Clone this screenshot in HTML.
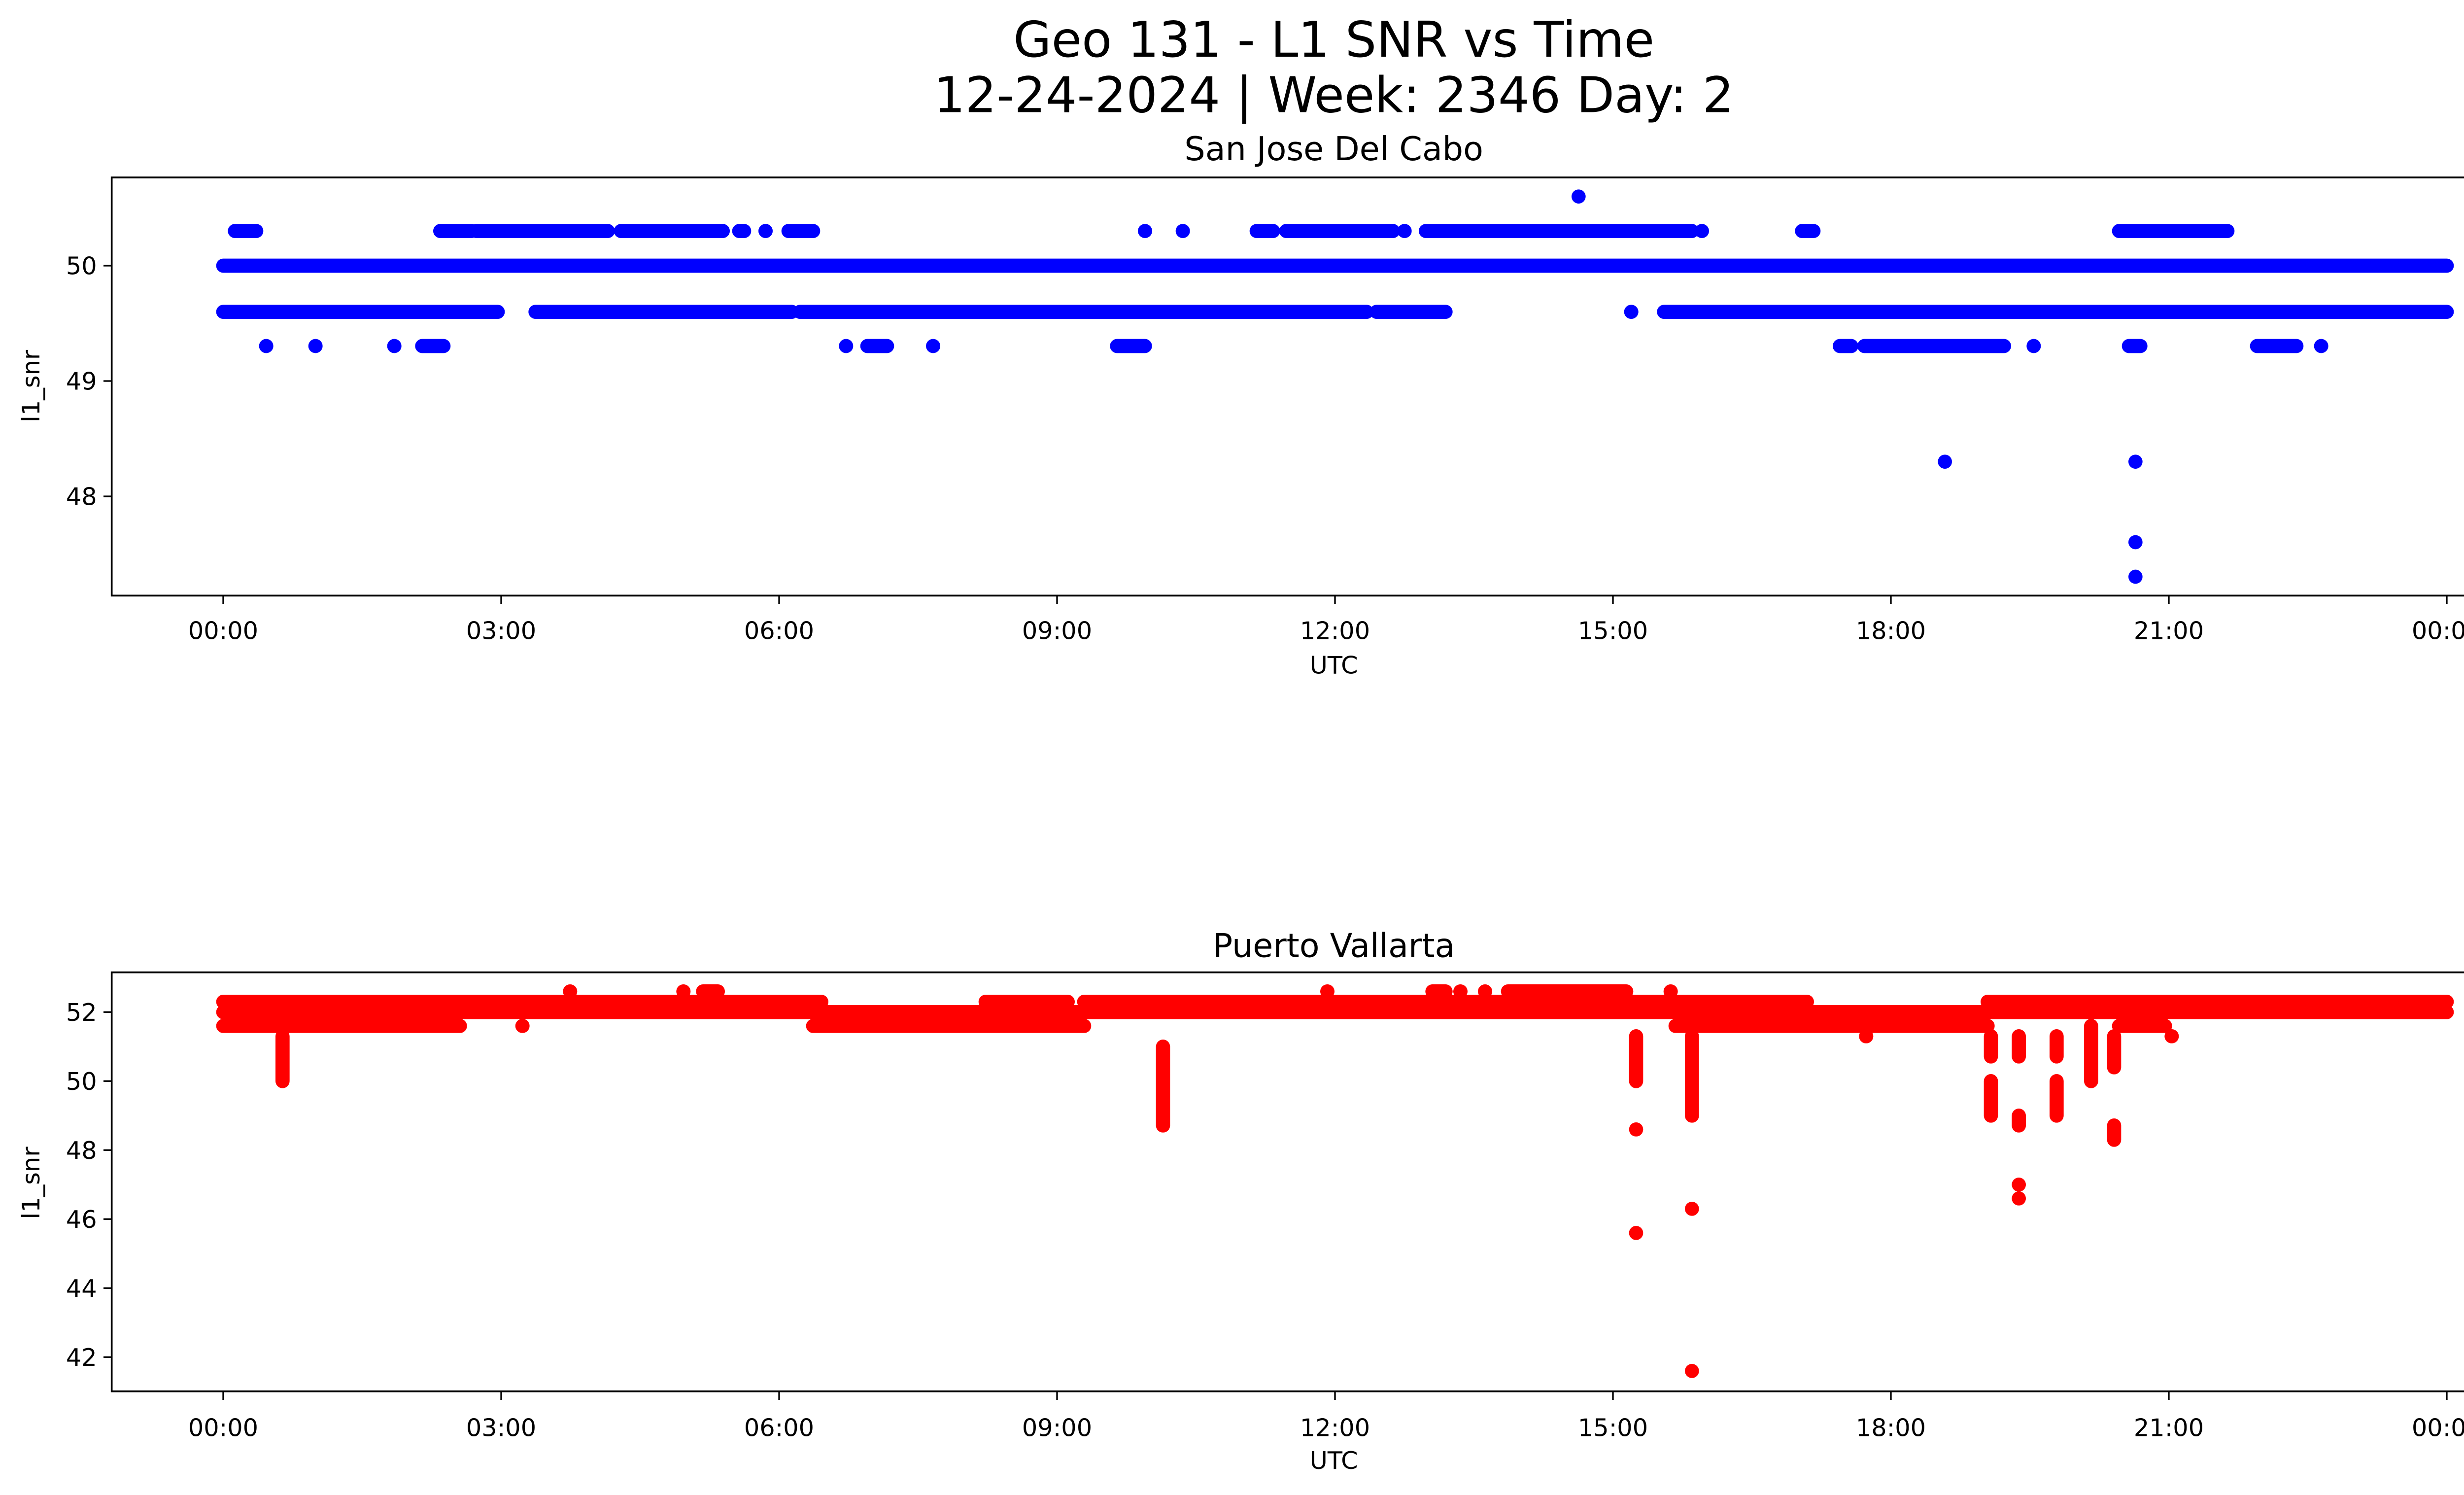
<!DOCTYPE html>
<html><head><meta charset="utf-8"><style>html,body{margin:0;padding:0;background:#fff}svg{display:block}</style></head>
<body>
<svg width="5226" height="3033" viewBox="0 0 1567.8 909.9" xmlns="http://www.w3.org/2000/svg" font-family="'DejaVu Sans','Liberation Sans',sans-serif">
<rect width="1567.8" height="909.9" fill="#fff"/>
<text x="812" y="34.5" font-size="30" text-anchor="middle">Geo 131 - L1 SNR vs Time</text>
<text x="812" y="68.3" font-size="30" text-anchor="middle">12-24-2024 | Week: 2346 Day: 2</text>
<text x="812" y="97.5" font-size="20" text-anchor="middle">San Jose Del Cabo</text>
<text x="812" y="582.5" font-size="20" text-anchor="middle">Puerto Vallarta</text>

<!-- TOP PLOT -->
<g stroke="#00f" stroke-width="8.6" stroke-linecap="round" fill="none">
<path d="M135.9 161.7H1489.5"/>
<path d="M135.9 189.8H303M326 189.8H482M487 189.8H832M838 189.8H880M993 189.8H993.1M1013 189.8H1489.5"/>
<path d="M143 140.6H156M268 140.6H287M290 140.6H370M378 140.6H440M450 140.6H453M466 140.6H466.1M480 140.6H495M697 140.6H697.1M720 140.6H720.1M765 140.6H775M783 140.6H848M855 140.6H855.1M868 140.6H1030M1036 140.6H1036.1M1097 140.6H1104M1290 140.6H1356"/>
<path d="M162 210.6H162.1M192 210.6H192.1M240 210.6H240.1M257 210.6H270M515 210.6H515.1M528 210.6H540M568 210.6H568.1M680 210.6H697M1120 210.6H1127M1135 210.6H1220M1238 210.6H1238.1M1296 210.6H1303M1374 210.6H1398M1413 210.6H1413.1"/>
</g>
<g fill="#00f">
<circle cx="961" cy="119.6" r="4.3"/><circle cx="1184" cy="281" r="4.3"/><circle cx="1300" cy="281" r="4.3"/><circle cx="1300" cy="330" r="4.3"/><circle cx="1300" cy="351" r="4.3"/>
</g>
<rect x="68" y="108" width="1488" height="254.5" fill="none" stroke="#000" stroke-width="1.1"/>
<g stroke="#000" stroke-width="1">
<path d="M68 161.7h-5M68 231.9h-5M68 302.1h-5"/>
<path d="M135.9 362.5v5M305.1 362.5v5M474.3 362.5v5M643.5 362.5v5M812.7 362.5v5M981.9 362.5v5M1151.1 362.5v5M1320.3 362.5v5M1489.5 362.5v5"/>
</g>
<g font-size="14.8" text-anchor="end"><text x="59" y="167">50</text><text x="59" y="237.2">49</text><text x="59" y="307.4">48</text></g>
<g font-size="14.8" text-anchor="middle">
<text x="135.9" y="389">00:00</text><text x="305.1" y="389">03:00</text><text x="474.3" y="389">06:00</text><text x="643.5" y="389">09:00</text><text x="812.7" y="389">12:00</text><text x="981.9" y="389">15:00</text><text x="1151.1" y="389">18:00</text><text x="1320.3" y="389">21:00</text><text x="1489.5" y="389">00:00</text>
<text x="812" y="410">UTC</text></g>
<text transform="translate(24 235) rotate(-90)" font-size="14.8" text-anchor="middle">l1_snr</text>

<!-- BOTTOM PLOT -->
<g stroke="#f00" stroke-width="8.6" stroke-linecap="round" fill="none">
<path d="M135.9 616H1489.5"/>
<path d="M135.9 609.7H500M600 609.7H650M660 609.7H1100M1210 609.7H1489.5"/>
<path d="M135.9 624.4H280M495 624.4H660M1020 624.4H1210M1290 624.4H1318"/>
<path d="M347 603.4h.1M416 603.4h.1M428 603.4H437M808 603.4h.1M872 603.4H880M889 603.4h.1M904 603.4h.1M918 603.4H990M1017 603.4h.1"/>
<path d="M172 630.7V658M318 624.4h.1M708 637V685M996 630.7V658M1030 630.7V679M1136 630.7h.1M1212 630.7V643M1212 658V679M1229 630.7V643M1229 679V685M1252 630.7V643M1252 658V679M1273 624.4V658M1287 630.7V649.6M1287 685V693.7M1322 630.7h.1"/>
</g>
<g fill="#f00">
<circle cx="996" cy="687.4" r="4.3"/><circle cx="996" cy="750.4" r="4.3"/><circle cx="1030" cy="735.7" r="4.3"/><circle cx="1030" cy="834.4" r="4.3"/><circle cx="1229" cy="721" r="4.3"/><circle cx="1229" cy="729.4" r="4.3"/>
</g>
<rect x="68" y="591.8" width="1488" height="255" fill="none" stroke="#000" stroke-width="1.1"/>
<g stroke="#000" stroke-width="1">
<path d="M68 616h-5M68 658h-5M68 700h-5M68 742h-5M68 784h-5M68 826h-5"/>
<path d="M135.9 847v5M305.1 847v5M474.3 847v5M643.5 847v5M812.7 847v5M981.9 847v5M1151.1 847v5M1320.3 847v5M1489.5 847v5"/>
</g>
<g font-size="14.8" text-anchor="end"><text x="59" y="621.3">52</text><text x="59" y="663.3">50</text><text x="59" y="705.3">48</text><text x="59" y="747.3">46</text><text x="59" y="789.3">44</text><text x="59" y="831.3">42</text></g>
<g font-size="14.8" text-anchor="middle">
<text x="135.9" y="874">00:00</text><text x="305.1" y="874">03:00</text><text x="474.3" y="874">06:00</text><text x="643.5" y="874">09:00</text><text x="812.7" y="874">12:00</text><text x="981.9" y="874">15:00</text><text x="1151.1" y="874">18:00</text><text x="1320.3" y="874">21:00</text><text x="1489.5" y="874">00:00</text>
<text x="812" y="894">UTC</text></g>
<text transform="translate(24 720) rotate(-90)" font-size="14.8" text-anchor="middle">l1_snr</text>
</svg>
</body></html>
